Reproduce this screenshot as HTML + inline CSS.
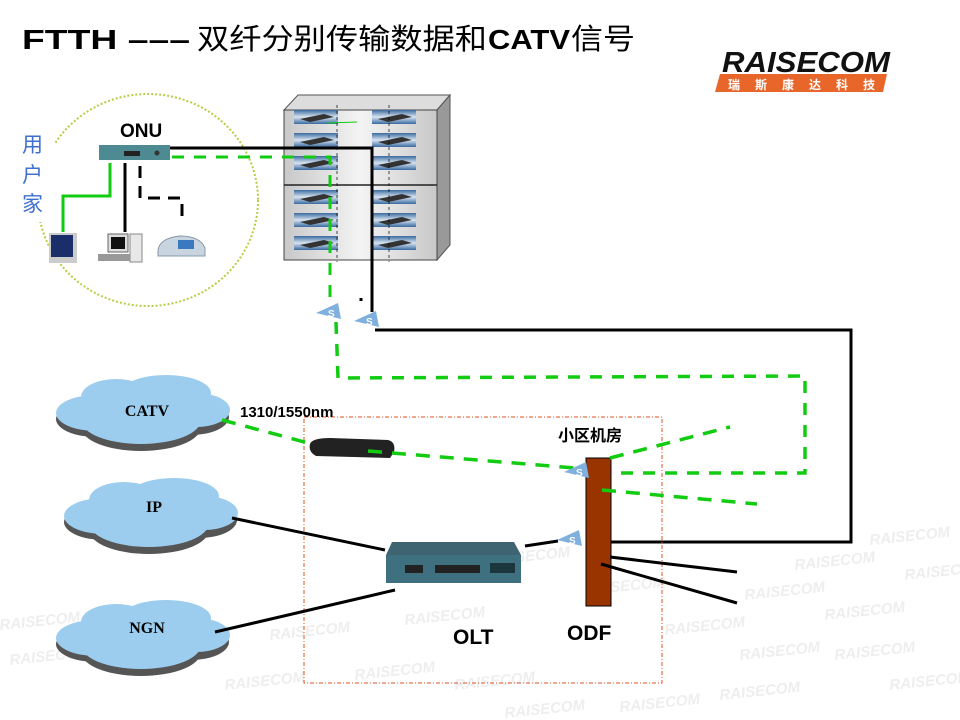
<!DOCTYPE html>
<html><head><meta charset="utf-8"><style>
html,body{margin:0;padding:0;background:#fff;width:960px;height:720px;overflow:hidden}
svg{display:block}
</style></head><body>
<svg width="960" height="720" viewBox="0 0 960 720" xmlns="http://www.w3.org/2000/svg" font-family="Liberation Sans, Noto Sans CJK SC, sans-serif">
<defs>
<linearGradient id="mod" x1="0" y1="0" x2="0" y2="1">
<stop offset="0" stop-color="#3a6aa0"/><stop offset="0.5" stop-color="#d8e4f0"/><stop offset="1" stop-color="#3a6aa0"/>
</linearGradient>
<linearGradient id="cab" x1="0" y1="0" x2="1" y2="0">
<stop offset="0" stop-color="#c8c8c8"/><stop offset="0.5" stop-color="#f4f4f4"/><stop offset="1" stop-color="#c8c8c8"/>
</linearGradient>
<g id="cloud">
<g transform="translate(0,4)" fill="#555">
<ellipse cx="40" cy="40" rx="40" ry="18"/><ellipse cx="85" cy="48" rx="60" ry="24"/><ellipse cx="135" cy="38" rx="38" ry="18"/>
</g>
<g fill="#9ccdee">
<ellipse cx="40" cy="38" rx="40" ry="18"/><ellipse cx="60" cy="22" rx="35" ry="18"/><ellipse cx="110" cy="18" rx="45" ry="18"/><ellipse cx="140" cy="35" rx="34" ry="17"/><ellipse cx="85" cy="45" rx="60" ry="24"/><ellipse cx="85" cy="33" rx="55" ry="20"/>
</g>
</g>
<g id="spl"><polygon points="0,10 22,0 25,16" fill="#7fb0de"/><text x="12" y="14" font-size="10" font-weight="bold" fill="#fff">S</text></g>
<g id="dev"><rect x="0" y="0" width="44" height="14" fill="url(#mod)"/><polygon points="6,9 30,4 40,7 16,12" fill="#333"/></g>
<g id="wm"><text font-size="15" font-weight="bold" font-style="italic" fill="#eeeeee" transform="rotate(-6)">RAISECOM</text></g>
</defs>

<!-- watermarks -->
<use href="#wm" x="870" y="545"/><use href="#wm" x="795" y="570"/><use href="#wm" x="905" y="580"/><use href="#wm" x="745" y="600"/><use href="#wm" x="825" y="620"/><use href="#wm" x="665" y="635"/><use href="#wm" x="740" y="660"/><use href="#wm" x="835" y="660"/><use href="#wm" x="890" y="690"/><use href="#wm" x="720" y="700"/><use href="#wm" x="620" y="712"/><use href="#wm" x="490" y="565"/><use href="#wm" x="405" y="625"/><use href="#wm" x="355" y="680"/><use href="#wm" x="270" y="640"/><use href="#wm" x="225" y="690"/><use href="#wm" x="0" y="630"/><use href="#wm" x="10" y="665"/><use href="#wm" x="455" y="690"/><use href="#wm" x="505" y="718"/><use href="#wm" x="585" y="595"/>

<!-- title -->
<text y="49" font-size="28" font-weight="bold" fill="#000">
<tspan x="22" textLength="168" lengthAdjust="spacingAndGlyphs">FTTH –––</tspan><tspan x="197" font-weight="normal" font-size="29" textLength="290" lengthAdjust="spacingAndGlyphs">双纤分别传输数据和</tspan><tspan x="488" textLength="82" lengthAdjust="spacingAndGlyphs">CATV</tspan><tspan x="571" font-weight="normal" font-size="29" textLength="64" lengthAdjust="spacingAndGlyphs">信号</tspan></text>

<!-- logo -->
<text x="722" y="72" font-size="29" font-weight="bold" font-style="italic" fill="#111" textLength="168" lengthAdjust="spacingAndGlyphs">RAISECOM</text>
<polygon points="720,74 887,74 883,92 715,92" fill="#e8662a"/>
<text x="728" y="89" font-size="12" font-weight="bold" fill="#fff" letter-spacing="15">瑞斯康达科技</text>

<!-- user circle -->
<ellipse cx="148" cy="200" rx="110" ry="106" fill="none" stroke="#b8cc44" stroke-width="2" stroke-dasharray="2,2"/>
<rect x="12" y="126" width="43" height="96" fill="#fff"/>
<text x="22" y="152" font-size="21" fill="#3f6fcf">用</text>
<text x="22" y="182" font-size="21" fill="#3f6fcf">户</text>
<text x="22" y="211" font-size="21" fill="#3f6fcf">家</text>
<text x="120" y="137" font-size="19" font-weight="bold">ONU</text>
<rect x="99" y="145" width="71" height="15" fill="#4d8a92"/>
<rect x="124" y="151" width="16" height="5" fill="#222"/>
<circle cx="157" cy="153" r="2.5" fill="#333"/>
<polyline points="110,163 110,196 63,196 63,232" fill="none" stroke="#11cc11" stroke-width="3"/>
<line x1="125" y1="163" x2="125" y2="232" stroke="#000" stroke-width="3"/>
<polyline points="140,166 140,198 182,198 182,222" fill="none" stroke="#000" stroke-width="3" stroke-dasharray="12,8"/>
<rect x="49" y="233" width="28" height="30" fill="#ccc"/><rect x="51" y="235" width="22" height="22" fill="#1c2e6a"/>
<rect x="108" y="234" width="20" height="18" fill="#ddd" stroke="#666"/><rect x="111" y="237" width="14" height="12" fill="#111"/>
<rect x="130" y="234" width="12" height="28" fill="#e8e8e8" stroke="#888"/><rect x="98" y="254" width="32" height="7" fill="#999"/>
<path d="M158,250 Q160,238 180,236 Q200,236 205,248 L205,256 L158,256Z" fill="#c8d4e0" stroke="#8899aa"/>
<rect x="178" y="240" width="16" height="9" fill="#3a78c0"/>

<!-- cabinet -->
<polygon points="284,110 298,95 450,95 437,110" fill="#ddd" stroke="#555"/>
<polygon points="437,110 450,95 450,245 437,260" fill="#999" stroke="#555"/>
<rect x="284" y="110" width="153" height="150" fill="url(#cab)" stroke="#444"/>
<line x1="284" y1="185" x2="437" y2="185" stroke="#222" stroke-width="1.5"/>
<use href="#dev" x="294" y="110"/><use href="#dev" x="294" y="133"/><use href="#dev" x="294" y="156"/>
<use href="#dev" x="294" y="190"/><use href="#dev" x="294" y="213"/><use href="#dev" x="294" y="236"/>
<use href="#dev" x="372" y="110"/><use href="#dev" x="372" y="133"/><use href="#dev" x="372" y="156"/>
<use href="#dev" x="372" y="190"/><use href="#dev" x="372" y="213"/><use href="#dev" x="372" y="236"/>
<line x1="328" y1="123" x2="357" y2="122" stroke="#11cc11" stroke-width="1"/>
<line x1="337" y1="105" x2="337" y2="262" stroke="#000" stroke-width="0.7" stroke-dasharray="3,3"/>
<line x1="389" y1="105" x2="389" y2="262" stroke="#000" stroke-width="0.7" stroke-dasharray="3,3"/>

<polyline points="170,148 372,148 372,312" fill="none" stroke="#000" stroke-width="3"/>
<line x1="361" y1="298" x2="361" y2="301" stroke="#000" stroke-width="3"/>
<polyline points="375,330 851,330 851,542 601,542" fill="none" stroke="#000" stroke-width="3"/>
<polyline points="172,157 330,157 330,300" fill="none" stroke="#11cc11" stroke-width="3" stroke-dasharray="12,10"/>
<polyline points="336,322 338,378 805,376 805,473 610,473" fill="none" stroke="#11cc11" stroke-width="3.5" stroke-dasharray="12,10"/>
<use href="#spl" x="316" y="303"/>
<use href="#spl" x="354" y="311"/>

<use href="#cloud" x="56" y="375"/>
<use href="#cloud" x="64" y="478"/>
<use href="#cloud" x="56" y="600"/>
<text x="147" y="416" font-family="Liberation Serif, serif" font-size="16" font-weight="bold" text-anchor="middle">CATV</text>
<text x="154" y="512" font-family="Liberation Serif, serif" font-size="16" font-weight="bold" text-anchor="middle">IP</text>
<text x="147" y="633" font-family="Liberation Serif, serif" font-size="16" font-weight="bold" text-anchor="middle">NGN</text>

<rect x="304" y="417" width="358" height="266" fill="none" stroke="#e05020" stroke-width="1" stroke-dasharray="4,2,1,2"/>
<text x="240" y="417" font-size="15" font-weight="bold">1310/1550nm</text>
<text x="558" y="441" font-size="16" font-weight="bold">小区机房</text>

<line x1="222" y1="420" x2="312" y2="444" stroke="#11cc11" stroke-width="3.5" stroke-dasharray="14,10"/>
<path d="M310,444 Q312,438 330,438 L388,440 Q396,442 394,452 L390,458 L316,456 Q308,452 310,444Z" fill="#222"/>
<line x1="368" y1="451" x2="575" y2="468" stroke="#11cc11" stroke-width="3.5" stroke-dasharray="14,10"/>

<rect x="586" y="458" width="25" height="148" fill="#993300" stroke="#000" stroke-width="1"/>
<use href="#spl" x="564" y="462"/>
<use href="#spl" x="557" y="530"/>
<line x1="610" y1="458" x2="730" y2="427" stroke="#11cc11" stroke-width="3.5" stroke-dasharray="14,10"/>
<line x1="602" y1="490" x2="757" y2="504" stroke="#11cc11" stroke-width="3.5" stroke-dasharray="14,10"/>
<line x1="610" y1="557" x2="737" y2="572" stroke="#000" stroke-width="3"/>
<line x1="601" y1="564" x2="737" y2="603" stroke="#000" stroke-width="3"/>

<line x1="232" y1="518" x2="385" y2="550" stroke="#000" stroke-width="3"/>
<line x1="215" y1="632" x2="395" y2="590" stroke="#000" stroke-width="3"/>
<line x1="525" y1="546" x2="558" y2="541" stroke="#000" stroke-width="3"/>
<polygon points="392,542 514,542 521,555 386,555" fill="#3d6470"/>
<rect x="386" y="555" width="135" height="28" fill="#3e7080"/>
<rect x="435" y="565" width="45" height="8" fill="#222"/>
<rect x="490" y="563" width="25" height="10" fill="#1c3640"/>
<rect x="405" y="565" width="18" height="8" fill="#222"/>

<text x="453" y="644" font-size="21" font-weight="bold">OLT</text>
<text x="567" y="640" font-size="21" font-weight="bold">ODF</text>
</svg>
</body></html>
